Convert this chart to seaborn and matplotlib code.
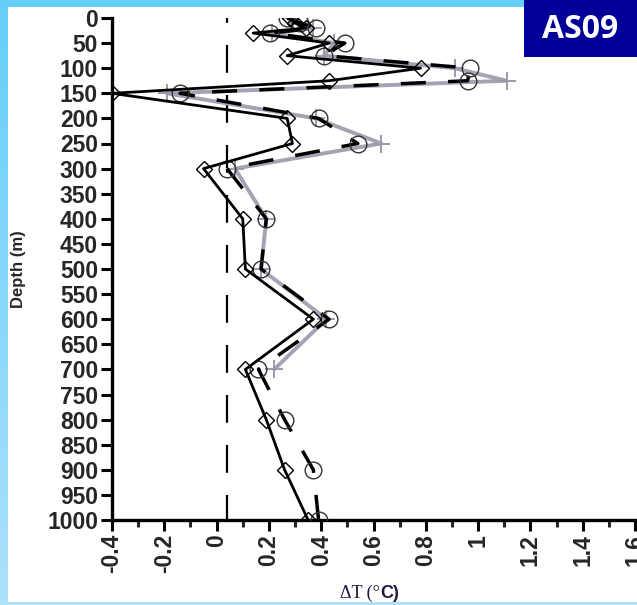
import numpy as np
import pandas as pd
import matplotlib
matplotlib.use("Agg")
import matplotlib.pyplot as plt
from matplotlib.patches import Rectangle
import seaborn as sns

# Depth levels (m) and temperature anomalies (deg C) for each profile
depth = [0, 10, 20, 30, 50, 75, 100, 125, 150, 200, 250, 300, 400, 500, 600, 700, 800, 900, 1000]
dT_diamond = [0.28, 0.30, 0.34, 0.14, 0.43, 0.27, 0.78, 0.43, -0.40, 0.27, 0.29, -0.05,
              0.10, 0.11, 0.37, 0.11, 0.19, 0.26, 0.35]
dT_circle = [0.27, 0.32, 0.38, 0.205, 0.49, 0.41, 0.97, 0.96, -0.14, 0.39, 0.54, 0.04,
             0.19, 0.17, 0.43, 0.16, 0.26, 0.37, 0.39]
depth_plus = depth[:16]
dT_plus = [0.28, 0.31, 0.37, 0.21, 0.45, 0.41, 0.91, 1.11, -0.19, 0.38, 0.63, 0.07,
           0.19, 0.17, 0.42, 0.22]
ref_dT = 0.04

xticks = [-0.4, -0.2, 0, 0.2, 0.4, 0.6, 0.8, 1, 1.2, 1.4, 1.6]
xtick_labels = ["-0.4", "-0.2", "0", "0.2", "0.4", "0.6", "0.8", "1", "1.2", "1.4", "1.6"]
yticks = list(range(0, 1001, 50))
ytick_labels = [str(v) for v in yticks]
panel_label = "AS09"

sns.set_style("ticks")
plt.rcParams["font.family"] = ["Liberation Sans", "DejaVu Sans"]
plt.rcParams["lines.scale_dashes"] = False

W, H = 637, 605
fig = plt.figure(figsize=(W / 100, H / 100), dpi=100, facecolor="white")

# light blue frame: gradient strip on the left, bands at top and bottom
grad = np.linspace(0, 1, 256).reshape(-1, 1)
cmap = matplotlib.colors.LinearSegmentedColormap.from_list("frame", ["#66cff9", "#ace1fb"])
bg = fig.add_axes([0, 0, 7 / W, 1])
bg.imshow(grad, aspect="auto", cmap=cmap, extent=[0, 1, 0, 1], origin="upper")
bg.axis("off")
fig.patches.append(Rectangle((0, 1 - 7 / H), 1, 7 / H, transform=fig.transFigure,
                             facecolor="#66cff9", edgecolor="none", zorder=0))
fig.patches.append(Rectangle((0, 0), 1, 3 / H, transform=fig.transFigure,
                             facecolor="#aee2fb", edgecolor="none", zorder=0))

x0, x1 = 112, 635
y_top, y_bot = 18, 520
ax = fig.add_axes([x0 / W, (H - y_bot) / H, (W - x0) / W, (y_bot - y_top) / H])
ax.set_facecolor("none")

xmin, xmax = -0.4, 1.6
xmax_axis = xmin + (xmax - xmin) * (W - x0) / (x1 - x0)

ax.axvline(ref_dT, color="black", lw=1.6, linestyle=(2, (20, 16)), zorder=1)

df_plus = pd.DataFrame({"depth": depth_plus, "dT": dT_plus})
df_circle = pd.DataFrame({"depth": depth, "dT": dT_circle})
df_diamond = pd.DataFrame({"depth": depth, "dT": dT_diamond})

sns.lineplot(data=df_plus, x="dT", y="depth", orient="y", sort=False, estimator=None,
             ax=ax, color="#a3a3b3", lw=2.8, marker="+", markersize=13,
             markeredgewidth=1.4, markeredgecolor="#9a9aaa", zorder=2)
sns.lineplot(data=df_circle, x="dT", y="depth", orient="y", sort=False, estimator=None,
             ax=ax, color="black", lw=2.5, linestyle=(0, (18, 16)), marker="o",
             markersize=12, markerfacecolor="none", markeredgecolor="#333333",
             markeredgewidth=1.0, zorder=3)
sns.lineplot(data=df_diamond, x="dT", y="depth", orient="y", sort=False, estimator=None,
             ax=ax, color="black", lw=2.0, marker="D", markersize=8.5,
             markerfacecolor="none", markeredgecolor="black", markeredgewidth=1.0,
             zorder=4)

ax.set_xlim(xmin, xmax_axis)
ax.set_ylim(1000, 0)
ax.set_xticks(xticks)
ax.set_xticklabels(xtick_labels, rotation=90, fontsize=16.5, fontweight="bold")
ax.set_xticks(np.arange(-0.3, 1.6, 0.2), minor=True)
ax.set_yticks(yticks)
ax.set_yticklabels(ytick_labels, fontsize=16.5, fontweight="bold")
ax.tick_params(axis="both", which="major", direction="out", length=8, width=2.2,
               color="black", pad=2)
ax.tick_params(axis="x", which="minor", direction="out", length=5, width=2.2)
for side in ("top", "right"):
    ax.spines[side].set_visible(False)
for side in ("left", "bottom"):
    ax.spines[side].set_linewidth(2.4)
    ax.spines[side].set_color("black")
ax.set_xlabel("")
ax.set_ylabel("Depth (m)", fontsize=12, fontweight="bold")
ax.yaxis.set_label_coords(-(x0 - 26) / (W - x0), 0.5)

# x axis title: serif symbol part followed by a bold sans unit
t1 = fig.text(340 / W, (H - 593) / H, "ΔT (°", fontsize=13, family="Liberation Serif",
              color="#1a1a40", va="center", ha="left")
ax.annotate("C)", xy=(1, 0.5), xycoords=t1, fontsize=13, fontweight="bold",
            color="#1a1a40", va="center", ha="left", annotation_clip=False)

# panel tag in the top right corner
fig.patches.append(Rectangle((524 / W, 1 - 57 / H), (W - 524) / W, 57 / H,
                             transform=fig.transFigure, facecolor="#000099",
                             edgecolor="none", zorder=5))
fig.text(580 / W, 1 - 30 / H, panel_label, fontsize=23, fontweight="bold",
         family=["Open Sans", "DejaVu Sans"], color="white", ha="center", va="center",
         zorder=6)

fig.savefig("out.png", dpi=100, facecolor="white")
